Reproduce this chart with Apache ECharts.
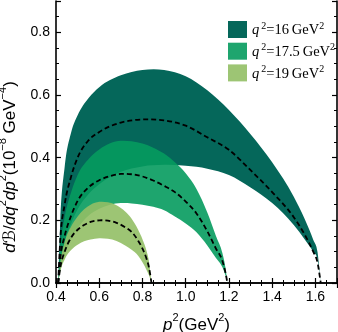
<!DOCTYPE html>
<html>
<head>
<meta charset="utf-8">
<script src="https://cdn.jsdelivr.net/npm/echarts@6/dist/echarts.min.js"></script>
<style>
html, body { margin: 0; padding: 0; background: #fff; }
#main { width: 338px; height: 332px; }
</style>
</head>
<body>
<div id="main"></div>
<script>
// q^2 = 16 GeV^2 band (upper / central / lower)
var p2_16  = [0.41, 0.42, 0.44, 0.47, 0.50, 0.55, 0.60, 0.70, 0.80, 0.90, 1.00, 1.10, 1.20, 1.30, 1.40, 1.50, 1.55, 1.59, 1.61, 1.625];
var up_16  = [0, 0.20, 0.37, 0.48, 0.535, 0.590, 0.625, 0.663, 0.680, 0.680, 0.660, 0.615, 0.552, 0.475, 0.385, 0.275, 0.205, 0.138, 0.098, 0];
var mid_16 = [0, 0.14, 0.25, 0.34, 0.400, 0.455, 0.482, 0.512, 0.522, 0.519, 0.502, 0.465, 0.425, 0.360, 0.290, 0.210, 0.155, 0.100, 0.065, 0];
var low_16 = [0, 0.06, 0.13, 0.19, 0.235, 0.283, 0.315, 0.355, 0.372, 0.377, 0.374, 0.365, 0.345, 0.305, 0.255, 0.185, 0.140, 0.100, 0.075, 0];

// q^2 = 17.5 GeV^2 band
var p2_175  = [0.41, 0.42, 0.44, 0.47, 0.50, 0.55, 0.60, 0.65, 0.70, 0.75, 0.80, 0.85, 0.90, 0.95, 1.00, 1.05, 1.10, 1.14, 1.17, 1.185, 1.193];
var up_175  = [0, 0.11, 0.21, 0.29, 0.345, 0.395, 0.426, 0.446, 0.454, 0.452, 0.445, 0.432, 0.413, 0.385, 0.350, 0.300, 0.225, 0.150, 0.095, 0.045, 0];
var mid_175 = [0, 0.08, 0.15, 0.215, 0.262, 0.305, 0.328, 0.341, 0.348, 0.347, 0.340, 0.327, 0.310, 0.290, 0.260, 0.222, 0.165, 0.110, 0.070, 0.030, 0];
var low_175 = [0, 0.04, 0.09, 0.14, 0.175, 0.215, 0.237, 0.250, 0.255, 0.254, 0.250, 0.243, 0.232, 0.212, 0.190, 0.162, 0.120, 0.080, 0.050, 0.022, 0];

// q^2 = 19 GeV^2 band
var p2_19  = [0.41, 0.42, 0.44, 0.47, 0.50, 0.53, 0.56, 0.60, 0.64, 0.68, 0.72, 0.75, 0.78, 0.80, 0.82, 0.83, 0.842];
var up_19  = [0, 0.065, 0.13, 0.18, 0.212, 0.235, 0.250, 0.259, 0.258, 0.248, 0.228, 0.205, 0.170, 0.140, 0.100, 0.070, 0];
var mid_19 = [0, 0.050, 0.10, 0.145, 0.170, 0.185, 0.195, 0.200, 0.199, 0.192, 0.178, 0.163, 0.135, 0.110, 0.075, 0.050, 0];
var low_19 = [0, 0.037, 0.075, 0.105, 0.122, 0.133, 0.139, 0.143, 0.141, 0.134, 0.120, 0.106, 0.087, 0.066, 0.040, 0.025, 0];

var names = ['q16', 'q175', 'q19'];
var labels = ['16', '17.5', '19'];
var colors = ['#05675a', 'rgba(5,155,94,0.9)', 'rgba(146,191,101,0.9)'];

var SANS = "'Liberation Sans', Arial, sans-serif";
var SERIF = "'Liberation Serif', 'Times New Roman', serif";

var chart = echarts.init(document.getElementById('main'));

// cubic segments (pixel space) of a smooth curve through the data points
function segs(api, xs, ys) {
    var p = [];
    for (var i = 0; i < xs.length; i++) p.push(api.coord([xs[i], ys[i]]));
    var n = p.length, d = [], h = [], m = [];
    for (var i = 0; i < n - 1; i++) {
        h[i] = p[i + 1][0] - p[i][0];
        d[i] = (p[i + 1][1] - p[i][1]) / h[i];
    }
    m[0] = d[0];
    m[n - 1] = d[n - 2];
    for (var i = 1; i < n - 1; i++) {
        var t = (h[i] * d[i - 1] + h[i - 1] * d[i]) / (h[i - 1] + h[i]);
        if (d[i - 1] * d[i] > 0) {
            var lim = 3 * Math.min(Math.abs(d[i - 1]), Math.abs(d[i]));
            if (Math.abs(t) > lim) t = t > 0 ? lim : -lim;
        }
        m[i] = t;
    }
    var out = [];
    for (var i = 0; i < n - 1; i++) {
        out.push([
            p[i],
            [p[i][0] + h[i] / 3, p[i][1] + m[i] * h[i] / 3],
            [p[i + 1][0] - h[i] / 3, p[i + 1][1] - m[i + 1] * h[i] / 3],
            p[i + 1]
        ]);
    }
    return out;
}

function f(pt) { return pt[0].toFixed(2) + ' ' + pt[1].toFixed(2); }

function band(name, xs, up, low, color) {
    return {
        name: name,
        type: 'custom',
        silent: true,
        itemStyle: { color: color },
        data: [[xs[0], 0]],
        renderItem: function (params, api) {
            var a = segs(api, xs, up);
            var b = segs(api, xs, low);
            var s = 'M' + f(a[0][0]);
            for (var i = 0; i < a.length; i++) {
                s += ' C' + f(a[i][1]) + ' ' + f(a[i][2]) + ' ' + f(a[i][3]);
            }
            for (var j = b.length - 1; j >= 0; j--) {
                s += ' C' + f(b[j][2]) + ' ' + f(b[j][1]) + ' ' + f(b[j][0]);
            }
            s += ' Z';
            return { type: 'path', shape: { pathData: s }, style: { fill: color } };
        }
    };
}

function dashed(xs, ys) {
    return {
        type: 'custom',
        silent: true,
        z: 5,
        data: [[xs[0], 0]],
        renderItem: function (params, api) {
            var a = segs(api, xs, ys);
            var s = 'M' + f(a[0][0]);
            for (var i = 0; i < a.length; i++) {
                s += ' C' + f(a[i][1]) + ' ' + f(a[i][2]) + ' ' + f(a[i][3]);
            }
            return {
                type: 'path',
                shape: { pathData: s },
                style: { fill: 'none', stroke: '#000', lineWidth: 1.8, lineDash: [5, 3] }
            };
        }
    };
}

function xAx(pos, showLabel) {
    return {
        type: 'value', position: pos, min: 0.4, max: 1.7, interval: 0.2,
        axisLine: { show: true, lineStyle: { color: '#000', width: 1.6 } },
        axisTick: { show: true, inside: true, length: 5, lineStyle: { color: '#000', width: 1.2 } },
        minorTick: { show: true, splitNumber: 4, length: 3, lineStyle: { color: '#000', width: 1 } },
        splitLine: { show: false },
        axisLabel: {
            show: showLabel, color: '#000', fontSize: 14, fontFamily: SANS, margin: 7,
            showMaxLabel: false,
            formatter: function (v) { return v.toFixed(1); }
        }
    };
}

function yAx(pos, showLabel) {
    return {
        type: 'value', position: pos, min: 0, max: 0.9, interval: 0.2,
        axisLine: { show: true, lineStyle: { color: '#000', width: 1.6 } },
        axisTick: { show: true, inside: true, length: 5, lineStyle: { color: '#000', width: 1.2 } },
        minorTick: { show: true, splitNumber: 4, length: 3, lineStyle: { color: '#000', width: 1 } },
        splitLine: { show: false },
        axisLabel: {
            show: showLabel, color: '#000', fontSize: 14, fontFamily: SANS, margin: 6,
            showMaxLabel: false,
            formatter: function (v) { return v.toFixed(1); }
        }
    };
}

var xa = xAx('bottom', true);
xa.name = '{i|p}{s|2}{n|(GeV}{s|2}{n|)}';
xa.nameLocation = 'middle';
xa.nameGap = 29;
xa.nameTextStyle = {
    rich: {
        i: { fontSize: 17, fontStyle: 'italic', fontFamily: SANS, color: '#000', lineHeight: 22, verticalAlign: 'bottom' },
        n: { fontSize: 17, fontFamily: SANS, color: '#000', lineHeight: 22, verticalAlign: 'bottom' },
        s: { fontSize: 11, fontFamily: SANS, color: '#000', lineHeight: 12, verticalAlign: 'top' }
    }
};

var ya = yAx('left', true);
ya.name = '{i|d}{b|\u212C}{n|/}{i|dq}{s|2}{i|dp}{s|2}{n|(10}{s|\u22128}{n| GeV}{s|\u22124}{n|)}';
ya.nameLocation = 'middle';
ya.nameRotate = 90;
ya.nameGap = 37;
ya.nameTextStyle = {
    padding: [0, 50, 0, 0],
    rich: {
        i: { fontSize: 17, fontStyle: 'italic', fontFamily: SANS, color: '#000', lineHeight: 22, verticalAlign: 'bottom' },
        b: { fontSize: 17, fontStyle: 'italic', fontFamily: "'DejaVu Sans', sans-serif", color: '#000', lineHeight: 22, verticalAlign: 'bottom' },
        n: { fontSize: 17, fontFamily: SANS, color: '#000', lineHeight: 22, verticalAlign: 'bottom' },
        s: { fontSize: 11, fontFamily: SANS, color: '#000', lineHeight: 12, verticalAlign: 'top' }
    }
};

var legendData = [];
for (var k = 0; k < names.length; k++) {
    legendData.push({ name: names[k], itemStyle: { color: colors[k] } });
}

var option = {
    animation: false,
    backgroundColor: '#fff',
    grid: { left: 56, right: 1, top: 1, bottom: 49, outerBoundsMode: 'none', containLabel: false },
    legend: {
        data: legendData,
        orient: 'vertical',
        left: 223,
        top: 16,
        icon: 'rect',
        itemWidth: 19,
        itemHeight: 17,
        itemGap: 4.7,
        selectedMode: false,
        formatter: function (name) {
            var idx = names.indexOf(name);
            return '{i|q}{s|2}{n|=' + labels[idx] + '\u2009GeV}{s|2}';
        },
        textStyle: {
            rich: {
                i: { fontSize: 14.5, fontStyle: 'italic', fontFamily: SERIF, color: '#000', lineHeight: 17, verticalAlign: 'bottom', padding: [0, 2, 0, 0] },
                n: { fontSize: 14.5, fontFamily: SERIF, color: '#000', lineHeight: 17, verticalAlign: 'bottom' },
                s: { fontSize: 10, fontFamily: SERIF, color: '#000', lineHeight: 10, verticalAlign: 'top' }
            }
        }
    },
    xAxis: [xa, xAx('top', false)],
    yAxis: [ya, yAx('right', false)],
    series: [
        band(names[0], p2_16, up_16, low_16, colors[0]),
        band(names[1], p2_175, up_175, low_175, colors[1]),
        band(names[2], p2_19, up_19, low_19, colors[2]),
        dashed(p2_16, mid_16),
        dashed(p2_175, mid_175),
        dashed(p2_19, mid_19)
    ]
};

chart.setOption(option);
</script>
</body>
</html>
